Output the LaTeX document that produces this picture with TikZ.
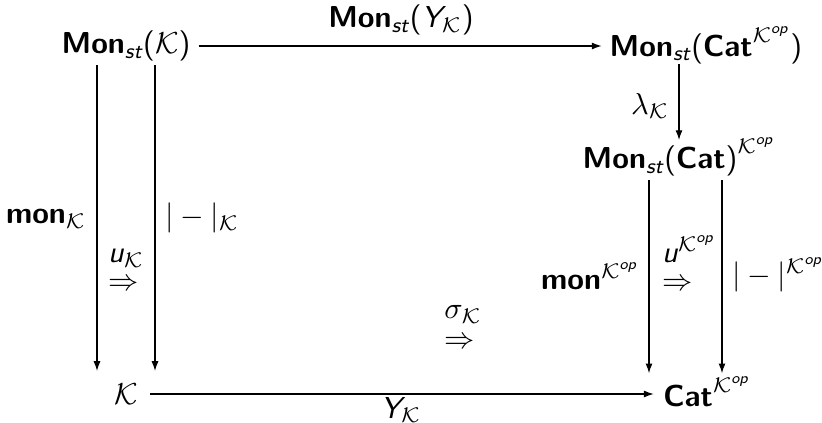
\documentclass[tikz,border=0pt]{standalone}
\usepackage{amsmath}
\usetikzlibrary{arrows.meta,calc}
\newcommand{\Bf}[1]{\textsf{\bfseries #1}}
\newcommand{\Sl}[1]{\textsf{\slshape #1}}
\newcommand{\Kc}{\mathcal{K}}
\newcommand{\Kop}{\mathcal{K}^{\Sl{op}}}
\newcommand{\Lpar}{\textsf{(}}
\newcommand{\Rpar}{\textsf{)}}
\tikzset{
  obj/.style={inner xsep=1pt, inner ysep=1pt},
  lab/.style={inner sep=0pt},
  arr/.style={-{Latex[length=3.2pt,width=2.3pt]}, line width=0.35pt},
}
\begin{document}
\begin{tikzpicture}[x=0.33pt,y=-0.33pt]
\useasboundingbox (0,0) rectangle (822,423);
% objects
\node[obj] (A) at (126,46) {$\Bf{Mon}_{\Sl{st}}\Lpar\Kc\Rpar$};
\node[obj] (B) at (706,45) {$\Bf{Mon}_{\Sl{st}}\Lpar\Bf{Cat}^{\Kop}\Rpar$};
\node[obj] (C) at (679,157) {$\Bf{Mon}_{\Sl{st}}\Lpar\Bf{Cat}\Rpar^{\Kop}$};
\node[obj] (D) at (126,394) {$\Kc$};
\node[obj] (E) at (707,392) {$\Bf{Cat}^{\Kop}$};
% x positions of the vertical arrows
\coordinate (xa) at (97,0);
\coordinate (xb) at (155,0);
\coordinate (xc) at (649,0);
\coordinate (xd) at (722,0);
% arrows
\draw[arr, shorten <=1.5pt, shorten >=1.5pt] (A.east) -- (A.east -| B.west);
\draw[arr, shorten <=3pt, shorten >=2pt] (D.east) -- (D.east -| E.west);
\draw[arr, shorten <=-1pt, shorten >=-2pt] (B.south -| C.north) -- (C.north);
\draw[arr, shorten >=3pt] (A.south -| xa) -- (D.north -| xa);
\draw[arr, shorten >=3pt] (A.south -| xb) -- (D.north -| xb);
\draw[arr] (C.south -| xc) -- (E.north -| xc);
\draw[arr] (C.south -| xd) -- (E.north -| xd);
% labels
\node[lab] (lt) at (401,20) {$\Bf{Mon}_{\Sl{st}}\Lpar\Sl{Y}_{\Kc}\Rpar$};
\node[lab] (lb) at (401,410) {$\Sl{Y}_{\Kc}$};
\node[lab] (ll) at (650,106) {$\lambda_{\Kc}$};
\node[lab] (lm) at (46,219) {$\Bf{mon}_{\Kc}$};
\node[lab] (lv) at (202,218) {$|-|_{\Kc}$};
\node[lab, align=left] (lu) at (126,270) {$\Sl{u}_{\Kc}$\\[-2.6pt]$\Rightarrow$};
\node[lab, align=left] (ls) at (463,327) {$\sigma_{\Kc}$\\[-2.3pt]$\Rightarrow$};
\node[lab] (lmr) at (590,276) {$\Bf{mon}^{\Kop}$};
\node[lab, align=left] (lur) at (689,263) {$\Sl{u}^{\Kop}$\\[-2.5pt]$\Rightarrow$};
\node[lab] (lvr) at (778,275) {$|-|^{\Kop}$};
\end{tikzpicture}
\end{document}
